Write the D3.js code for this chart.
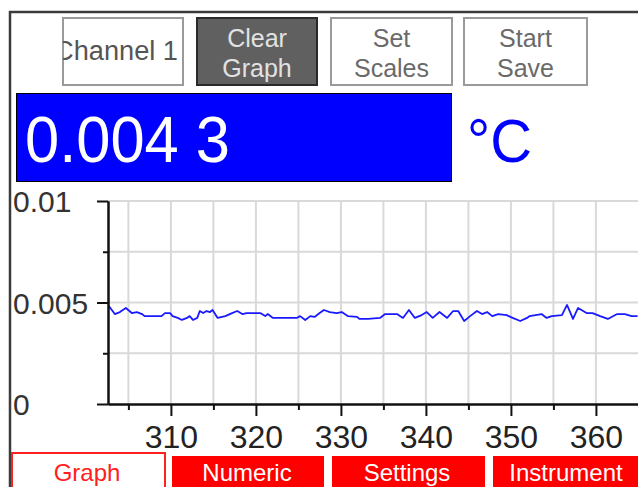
<!DOCTYPE html>
<html>
<head>
<meta charset="utf-8">
<script src="https://cdn.jsdelivr.net/npm/d3@7/dist/d3.min.js"></script>
<style>
  html, body { margin: 0; padding: 0; background: #fff; }
  svg { display: block; font-family: "Liberation Sans", Arial, sans-serif; }
</style>
</head>
<body>
<svg id="chart" width="638" height="487"></svg>
<script>
// ---- data ----
const times = [302.7,303.4,304.0,304.7,305.4,306.0,306.6,306.9,308.9,309.3,309.9,310.2,310.8,311.3,311.9,312.2,312.6,313.1,313.4,313.8,314.2,314.6,314.9,315.5,316.4,317.2,317.8,318.4,318.9,320.5,321.1,321.4,322.0,324.8,325.2,325.8,326.4,326.9,327.5,328.0,328.7,329.5,330.1,330.8,331.9,332.2,333.2,334.6,335.2,336.6,337.3,338.0,338.7,339.5,340.1,340.8,341.6,342.5,343.2,343.8,344.5,345.2,346.0,346.6,347.2,347.8,348.5,349.5,350.2,351.1,351.9,352.2,353.6,354.2,354.8,356.0,356.6,357.3,357.9,358.9,359.6,360.5,361.4,362.5,363.4,364.2,364.9];
const values = [0.00483,0.00443,0.00453,0.00473,0.00448,0.00453,0.00443,0.00433,0.00433,0.00448,0.00448,0.00433,0.00424,0.00414,0.00424,0.00433,0.00414,0.00424,0.00458,0.00448,0.00458,0.00453,0.00463,0.00424,0.00433,0.00448,0.00458,0.00443,0.00448,0.00448,0.00433,0.00443,0.00424,0.00424,0.00433,0.00414,0.00433,0.00429,0.00448,0.00463,0.00453,0.00448,0.00453,0.00433,0.00429,0.00419,0.00419,0.00424,0.00443,0.00443,0.00424,0.00463,0.00424,0.00438,0.00453,0.00424,0.00453,0.00424,0.00458,0.00458,0.00409,0.00433,0.00458,0.00443,0.00453,0.00433,0.00443,0.00438,0.00424,0.00409,0.00424,0.00433,0.00443,0.00424,0.00433,0.00438,0.00488,0.00419,0.00473,0.00448,0.00448,0.00433,0.00419,0.00443,0.00443,0.00433,0.00433];
const xMajorTicks = [310, 320, 330, 340, 350, 360];
const xMinorTicks = [305, 315, 325, 335, 345, 355, 365];
const yMajorTicks = [0, 0.005, 0.01];
const yMinorTicks = [0.0025, 0.0075];
const yTickLabels = ["0", "0.005", "0.01"];
const xDomain = [302.6, 364.95];
const yDomain = [0, 0.01];
const buttonLabels = [["Channel 1"], ["Clear", "Graph"], ["Set", "Scales"], ["Start", "Save"]];
const tabLabels = ["Graph", "Numeric", "Settings", "Instrument"];
const readingText = "0.004 3";
const unitText = "°C";

// ---- layout ----
const svg = d3.select("#chart");
const plot = { left: 108, right: 638, top: 201, bottom: 404 };
const x = d3.scaleLinear().domain(xDomain).range([plot.left, plot.right]);
const y = d3.scaleLinear().domain(yDomain).range([plot.bottom, plot.top]);

// frame
svg.append("line").attr("x1", 9).attr("x2", 638).attr("y1", 12).attr("y2", 12)
  .attr("stroke", "#3c3c3c").attr("stroke-width", 2.5);
svg.append("line").attr("x1", 10).attr("x2", 10).attr("y1", 11).attr("y2", 487)
  .attr("stroke", "#3c3c3c").attr("stroke-width", 2.5);

// buttons
const btns = [
  { x: 63, w: 120, fill: "#fff", stroke: "#9a9a9a", color: "#555", anchor: "end", tx: 178, base: [60], size: 27, len: 124 },
  { x: 197, w: 120, fill: "#606060", stroke: "#2a2a2a", color: "#e2e2e2", anchor: "middle", tx: 257, base: [47, 77], size: 25 },
  { x: 331, w: 121, fill: "#fff", stroke: "#9a9a9a", color: "#6a6a6a", anchor: "middle", tx: 391.5, base: [47, 77], size: 25 },
  { x: 464, w: 123, fill: "#fff", stroke: "#9a9a9a", color: "#6a6a6a", anchor: "middle", tx: 525.5, base: [47, 77], size: 25 }
];
const defs = svg.append("defs");
btns.forEach((b, i) => {
  defs.append("clipPath").attr("id", "bclip" + i).append("rect")
    .attr("x", b.x).attr("y", 18).attr("width", b.w).attr("height", 67);
  const g = svg.append("g");
  g.append("rect").attr("x", b.x).attr("y", 18).attr("width", b.w).attr("height", 67)
    .attr("fill", b.fill).attr("stroke", b.stroke).attr("stroke-width", 2);
  const tg = g.append("g").attr("clip-path", `url(#bclip${i})`);
  buttonLabels[i].forEach((t, j) => {
    const tx = tg.append("text").attr("x", b.tx).attr("y", b.base[j]).attr("text-anchor", b.anchor)
      .attr("font-size", b.size).attr("fill", b.color).text(t);
    if (b.len) tx.attr("textLength", b.len).attr("lengthAdjust", "spacingAndGlyphs");
  });
});

// reading display
svg.append("rect").attr("x", 16.5).attr("y", 93.5).attr("width", 435).attr("height", 88)
  .attr("fill", "#0000ff").attr("stroke", "#000").attr("stroke-width", 1);
svg.append("text").attr("x", 25).attr("y", 162).attr("font-size", 64).attr("fill", "#fff")
  .attr("textLength", 205).attr("lengthAdjust", "spacingAndGlyphs").text(readingText);
svg.append("text").attr("x", 467).attr("y", 162).attr("font-size", 62).attr("fill", "#0000ff")
  .attr("textLength", 65).attr("lengthAdjust", "spacingAndGlyphs").text(unitText);

// gridlines
const grid = svg.append("g").attr("stroke", "#d9d9d9").attr("stroke-width", 2);
grid.selectAll("line.v").data(xMajorTicks.concat(xMinorTicks).filter(d => x(d) <= plot.right))
  .join("line").attr("class", "v")
  .attr("x1", d => x(d)).attr("x2", d => x(d)).attr("y1", plot.top).attr("y2", plot.bottom);
grid.selectAll("line.h").data(yMajorTicks.concat(yMinorTicks).filter(d => d > 0))
  .join("line").attr("class", "h")
  .attr("x1", plot.left).attr("x2", plot.right).attr("y1", d => y(d)).attr("y2", d => y(d));

// data line
defs.append("clipPath").attr("id", "plotclip").append("rect")
  .attr("x", plot.left).attr("y", plot.top - 10).attr("width", plot.right - plot.left).attr("height", plot.bottom - plot.top + 10);
const pts = times.map((t, i) => [t, values[i]]);
svg.append("path").datum(pts).attr("clip-path", "url(#plotclip)")
  .attr("fill", "none").attr("stroke", "#1a1aff").attr("stroke-width", 1.8)
  .attr("stroke-linejoin", "round")
  .attr("d", d3.line().x(d => x(d[0])).y(d => y(d[1])));

// axes
function styleAxis(g) {
  g.select(".domain").attr("stroke", "#111").attr("stroke-width", 2);
  g.selectAll(".tick line").attr("stroke", "#111").attr("stroke-width", 2);
}
const yMajor = svg.append("g").attr("transform", `translate(${plot.left},0)`)
  .call(d3.axisLeft(y).tickValues(yMajorTicks).tickSize(11).tickSizeOuter(0)
    .tickFormat((d, i) => yTickLabels[i]));
styleAxis(yMajor);
yMajor.selectAll(".tick text").attr("x", 13 - plot.left).attr("dy", "0.36em")
  .attr("text-anchor", "start").attr("font-size", 30).attr("font-family", "Liberation Sans, Arial, sans-serif")
  .attr("fill", "#333");
const yMinor = svg.append("g").attr("transform", `translate(${plot.left},0)`)
  .call(d3.axisLeft(y).tickValues(yMinorTicks).tickSize(5).tickSizeOuter(0).tickFormat(""));
styleAxis(yMinor);

const xMajor = svg.append("g").attr("transform", `translate(0,${plot.bottom})`)
  .call(d3.axisBottom(x).tickValues(xMajorTicks).tickSize(12).tickSizeOuter(0).tickFormat(d3.format("d")));
styleAxis(xMajor);
xMajor.selectAll(".tick text").attr("y", 44).attr("dy", 0)
  .attr("font-size", 32).attr("font-family", "Liberation Sans, Arial, sans-serif").attr("fill", "#222");
const xMinor = svg.append("g").attr("transform", `translate(0,${plot.bottom})`)
  .call(d3.axisBottom(x).tickValues(xMinorTicks.filter(d => x(d) <= plot.right)).tickSize(6).tickSizeOuter(0).tickFormat(""));
styleAxis(xMinor);

// tabs
const tabs = [
  { x: 12, w: 153, y: 453, active: true, cx: 87 },
  { x: 172, w: 152, y: 456, active: false, cx: 247 },
  { x: 332, w: 153, y: 456, active: false, cx: 407 },
  { x: 493, w: 150, y: 456, active: false, cx: 566 }
];
tabs.forEach((t, i) => {
  svg.append("rect").attr("x", t.x).attr("y", t.y).attr("width", t.w).attr("height", 40)
    .attr("fill", t.active ? "#fff" : "#ff0000").attr("stroke", "#ff2020").attr("stroke-width", t.active ? 2 : 0);
  svg.append("text").attr("x", t.cx).attr("y", 481).attr("text-anchor", "middle")
    .attr("font-size", 24).attr("fill", t.active ? "#ff2020" : "#fff").text(tabLabels[i]);
});
</script>
</body>
</html>
